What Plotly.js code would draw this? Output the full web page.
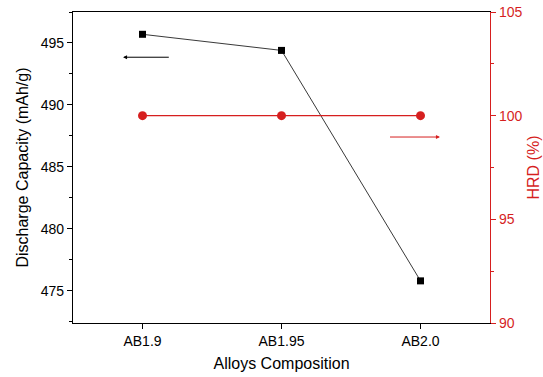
<!DOCTYPE html>
<html><head><meta charset="utf-8">
<script src="https://cdn.plot.ly/plotly-3.0.1.min.js"></script>
<style>body{margin:0;background:#fff}#c{width:543px;height:377px}</style>
</head><body><div id="c"></div>
<script>
const categories = ["AB1.9", "AB1.95", "AB2.0"];
const dischargeCapacity = [495.7, 494.4, 475.8];
const hrd = [100, 100, 100];

const RED = '#d61f1f';
const traces = [
  {x: categories, y: dischargeCapacity, type: 'scatter', mode: 'lines+markers',
   line: {color: '#222', width: 0.9}, marker: {symbol: 'square', size: 7, color: '#000'},
   yaxis: 'y', showlegend: false},
  {x: categories, y: hrd, type: 'scatter', mode: 'lines+markers',
   line: {color: RED, width: 1.3}, marker: {symbol: 'circle', size: 9, color: RED},
   yaxis: 'y2', showlegend: false}
];
const font = {family: 'Liberation Sans, Arial, sans-serif', size: 14, color: '#000'};
const layout = {
  width: 543, height: 377,
  margin: {l: 73, r: 53, t: 12, b: 54},
  paper_bgcolor: '#fff', plot_bgcolor: '#fff',
  font: font,
  xaxis: {type: 'category', range: [-0.5, 2.5], showgrid: false, zeroline: false,
    showline: true, linecolor: '#000', linewidth: 1.2, mirror: true,
    ticks: 'outside', ticklen: 5, tickcolor: '#000',
    minor: {ticks: 'outside', ticklen: 3, tickcolor: '#000', dtick: 1, tick0: 0.5},
    title: {text: 'Alloys Composition', font: {size: 16}, standoff: 9}},
  yaxis: {range: [472.4, 497.5], showgrid: false, zeroline: false,
    showline: true, linecolor: '#000', linewidth: 1.2,
    ticks: 'outside', ticklen: 5, tickcolor: '#000', dtick: 5,
    minor: {ticks: 'outside', ticklen: 3, tickcolor: '#000', dtick: 2.5},
    title: {text: 'Discharge Capacity (mAh/g)', font: {size: 16}, standoff: 8}},
  yaxis2: {overlaying: 'y', side: 'right', range: [90, 105], showgrid: false, zeroline: false,
    showline: true, linecolor: RED, linewidth: 1.2,
    ticks: 'outside', ticklen: 5, tickcolor: RED, dtick: 5,
    tickfont: {color: RED},
    minor: {ticks: 'outside', ticklen: 3, tickcolor: RED, dtick: 2.5},
    title: {text: 'HRD (%)', font: {size: 16, color: RED}, standoff: 6}},
  annotations: [
    {xref: 'x', yref: 'y', axref: 'x', ayref: 'y', x: -0.14, y: 493.85, ax: 0.2, ay: 493.85,
     showarrow: true, arrowhead: 2, arrowsize: 0.8, arrowwidth: 1, arrowcolor: '#000', text: ''},
    {xref: 'x', yref: 'y2', axref: 'x', ayref: 'y2', x: 2.14, y: 98.97, ax: 1.77, ay: 98.97,
     showarrow: true, arrowhead: 2, arrowsize: 0.8, arrowwidth: 1, arrowcolor: RED, text: ''}
  ]
};
Plotly.newPlot('c', traces, layout, {displayModeBar: false, staticPlot: true});
</script></body></html>
